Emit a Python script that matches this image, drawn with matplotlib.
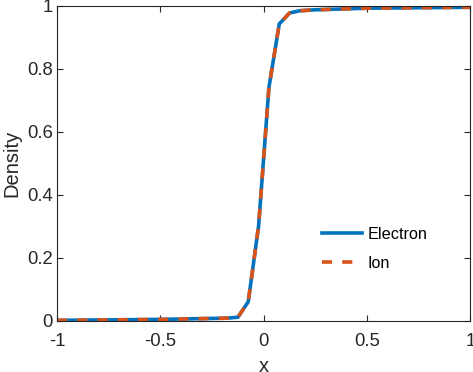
import numpy as np
import matplotlib
matplotlib.use('Agg')
import matplotlib.pyplot as plt

plt.rcParams['font.family'] = ['Liberation Sans', 'DejaVu Sans']
plt.rcParams['axes.unicode_minus'] = False

# Values
x = [-1.0, -0.5, -0.175, -0.125, -0.075, -0.025, 0.025, 0.075, 0.125, 0.175, 0.25, 0.5, 1.0]
electron = [0.001, 0.004, 0.008, 0.011, 0.060, 0.300, 0.740, 0.942, 0.977, 0.984, 0.987, 0.992, 0.995]
ion = [0.001, 0.004, 0.008, 0.011, 0.060, 0.300, 0.740, 0.942, 0.977, 0.984, 0.987, 0.992, 0.995]

xticks = [-1, -0.5, 0, 0.5, 1]
xticklabels = ['-1', '-0.5', '0', '0.5', '1']
yticks = [0, 0.2, 0.4, 0.6, 0.8, 1]
yticklabels = ['0', '0.2', '0.4', '0.6', '0.8', '1']

fig = plt.figure(figsize=(4.73, 3.72), dpi=100)
ax = fig.add_axes([0.1205, 0.138, 0.8742, 0.8467])

ax.plot(x, electron, color='#0072BD', lw=2.6, label='Electron')
ax.plot(x, ion, color='#D95319', lw=2.6, ls=(0, (2.8, 2.8)), label='Ion')

ax.set_xlim(-1, 1)
ax.set_ylim(0, 1)
ax.set_xticks(xticks)
ax.set_xticklabels(xticklabels)
ax.set_yticks(yticks)
ax.set_yticklabels(yticklabels)

edge = '#262626'
for s in ax.spines.values():
    s.set_color(edge)
    s.set_linewidth(0.8)
ax.tick_params(direction='in', length=4, width=0.8, color=edge, labelcolor=edge,
               labelsize=13.3, top=True, right=True)
ax.tick_params(axis='x', pad=9)
ax.tick_params(axis='y', pad=3)

ax.set_xlabel('x', fontsize=14.5, color=edge, labelpad=5)
ax.set_ylabel('Density', fontsize=14.5, color=edge, labelpad=4)

ax.legend(loc='upper left', bbox_to_anchor=(0.641, 0.298), frameon=False,
          fontsize=11.7, handlelength=2.46, handletextpad=0.35,
          labelspacing=0.85, borderpad=0, borderaxespad=0)

fig.savefig('out.png', dpi=100)
